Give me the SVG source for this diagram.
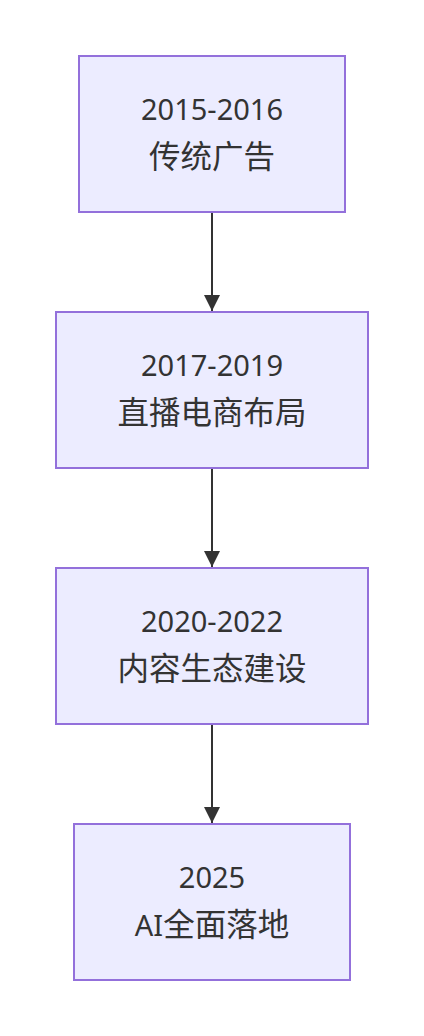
<svg xmlns="http://www.w3.org/2000/svg" width="424" height="1036" viewBox="0 0 424 1036">
<defs>
<style>
.node rect{fill:#ECECFF;stroke:#9370DB;stroke-width:2}
.node text{font-family:"Noto Sans","Noto Sans CJK SC",sans-serif;fill:#333333;text-anchor:middle}
.node .yr{font-size:29px}
.node .zh{font-size:31.5px;font-family:"Noto Sans CJK SC","Noto Sans",sans-serif}
.node .lat{font-size:29px;font-family:"Noto Sans",sans-serif}
.edge{stroke:#333333;stroke-width:2;fill:none}
</style>
<marker id="arrow" viewBox="0 0 10 10" refX="10" refY="5" markerUnits="userSpaceOnUse" markerWidth="16" markerHeight="16" orient="auto">
<path d="M0,0 L10,5 L0,10 z" fill="#333333"/>
</marker>
</defs>
<rect width="424" height="1036" fill="#ffffff"/>
<g id="connectors">
<line class="edge" x1="212" y1="212" x2="212" y2="311" marker-end="url(#arrow)"/>
<line class="edge" x1="212" y1="468" x2="212" y2="567" marker-end="url(#arrow)"/>
<line class="edge" x1="212" y1="724" x2="212" y2="823" marker-end="url(#arrow)"/>
</g>
<g id="n1" class="node">
<rect x="79" y="56" width="266" height="156"/>
<text class="yr" x="212" y="120">2015-2016</text>
<text class="zh" x="212" y="168">传统广告</text>
</g>
<g id="n2" class="node">
<rect x="56" y="312" width="312" height="156"/>
<text class="yr" x="212" y="376">2017-2019</text>
<text class="zh" x="212" y="424">直播电商布局</text>
</g>
<g id="n3" class="node">
<rect x="56" y="568" width="312" height="156"/>
<text class="yr" x="212" y="632">2020-2022</text>
<text class="zh" x="212" y="680">内容生态建设</text>
</g>
<g id="n4" class="node">
<rect x="74" y="824" width="276" height="156"/>
<text class="yr" x="212" y="888">2025</text>
<text class="zh" x="212" y="936"><tspan class="lat">AI</tspan>全面落地</text>
</g>
</svg>
